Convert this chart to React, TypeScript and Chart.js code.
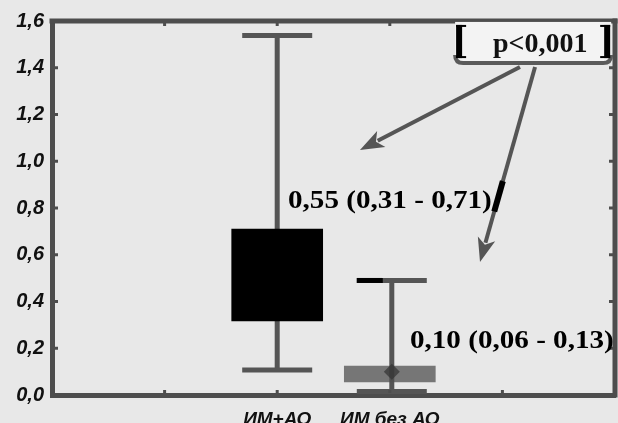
import { useEffect, useRef } from 'react';
import { Chart, registerables } from 'chart.js';

Chart.register(...registerables);

// ---- data ----
const slots = ['', '', 'ИМ+АО', 'ИМ без АО', '', ''];
const groupIndex = [2, 3];
const q1 = [0.317, 0.056];
const q3 = [0.71, 0.124];
const medians = [0.55, 0.1];
const whiskerLow = [0.107, 0.015];
const whiskerHigh = [1.538, 0.49];
const yMin = 0;
const yMax = 1.6;
const yStep = 0.2;
const summaryLabels = ['0,55 (0,31 - 0,71)', '0,10 (0,06 - 0,13)'];
const pLabel = 'p<0,001';

const boxData = slots.map((_, i) => {
  const k = groupIndex.indexOf(i);
  return k < 0 ? null : [q1[k], q3[k]];
});
const boxColors = slots.map((_, i) => {
  const k = groupIndex.indexOf(i);
  return k === 0 ? '#000000' : 'rgba(80,80,80,0.75)';
});

const SERIF = '"Liberation Serif", "Times New Roman", serif';
const SANS = '"Liberation Sans", Arial, sans-serif';

function drawArrow(ctx: CanvasRenderingContext2D, x1: number, y1: number, x2: number, y2: number) {
  const ang = Math.atan2(y2 - y1, x2 - x1);
  const headLen = 24;
  const headHalf = 9;
  const bx = x2 - headLen * Math.cos(ang);
  const by = y2 - headLen * Math.sin(ang);
  ctx.beginPath();
  ctx.moveTo(x1, y1);
  ctx.lineTo(bx + 4 * Math.cos(ang), by + 4 * Math.sin(ang));
  ctx.stroke();
  ctx.beginPath();
  ctx.moveTo(x2, y2);
  ctx.lineTo(bx + headHalf * Math.sin(ang), by - headHalf * Math.cos(ang));
  ctx.lineTo(bx + 6 * Math.cos(ang), by + 6 * Math.sin(ang));
  ctx.lineTo(bx - headHalf * Math.sin(ang), by + headHalf * Math.cos(ang));
  ctx.closePath();
  ctx.fill();
}

const boxPlugin = {
  id: 'boxExtras',
  beforeDraw(chart: any) {
    const { ctx, width, height } = chart;
    ctx.save();
    ctx.fillStyle = '#e8e8e8';
    ctx.fillRect(0, 0, width, height);
    ctx.restore();
  },
  beforeDatasetsDraw(chart: any) {
    const xs = chart.scales.x;
    const ys = chart.scales.y;
    const ctx = chart.ctx as CanvasRenderingContext2D;
    ctx.save();
    ctx.strokeStyle = '#555555';
    ctx.lineWidth = 5;
    groupIndex.forEach((gi, k) => {
      const px = xs.getPixelForValue(gi) + k * 2;
      const yh = ys.getPixelForValue(whiskerHigh[k]);
      const yl = ys.getPixelForValue(whiskerLow[k]);
      ctx.beginPath();
      ctx.moveTo(px, yh);
      ctx.lineTo(px, yl);
      ctx.moveTo(px - 35, yh);
      ctx.lineTo(px + 35, yh);
      ctx.moveTo(px - 35, yl);
      ctx.lineTo(px + 35, yl);
      ctx.stroke();
    });
    ctx.restore();
  },
  afterDatasetsDraw(chart: any) {
    const xs = chart.scales.x;
    const ys = chart.scales.y;
    const ca = chart.chartArea;
    const ctx = chart.ctx as CanvasRenderingContext2D;
    const X = (v: number) => xs.getPixelForValue(v);
    const Y = (v: number) => ys.getPixelForValue(v);
    ctx.save();

    // medians (diamonds)
    groupIndex.forEach((gi, k) => {
      const px = X(gi) + k * 2;
      const py = Y(medians[k]);
      ctx.fillStyle = k === 0 ? '#000000' : 'rgba(50,50,50,0.7)';
      ctx.beginPath();
      ctx.moveTo(px, py - 8);
      ctx.lineTo(px + 8, py);
      ctx.lineTo(px, py + 8);
      ctx.lineTo(px - 8, py);
      ctx.closePath();
      ctx.fill();
    });
    // dark left half of second upper cap (scan artefact)
    {
      const px = X(groupIndex[1]) + 2;
      const yh = Y(whiskerHigh[1]);
      ctx.strokeStyle = '#000';
      ctx.lineWidth = 5;
      ctx.beginPath();
      ctx.moveTo(px - 35, yh);
      ctx.lineTo(px - 9, yh);
      ctx.stroke();
    }

    // top and right frame
    ctx.fillStyle = '#4d4d4d';
    ctx.fillRect(ca.left - 2.5, ca.top - 2.5, ca.right - ca.left + 5, 5);
    ctx.fillRect(ca.right - 2.5, ca.top - 2.5, 5, ca.bottom - ca.top + 5);
    // small inward ticks
    for (let v = yMin + yStep; v < yMax - 1e-6; v += yStep) {
      const py = Y(v);
      ctx.fillRect(ca.left + 2, py - 1.5, 4, 3);
      ctx.fillRect(ca.right - 6, py - 1.5, 4, 3);
    }
    for (let i = 1; i < slots.length - 1; i++) {
      const px = X(i);
      ctx.fillRect(px - 1.5, ca.top + 2, 3, 3);
      ctx.fillRect(px - 1.5, ca.bottom - 5, 3, 3);
    }

    // p-value box
    const bx1 = X(3.58), bx2 = X(4.966), by1 = Y(1.596), by2 = Y(1.42);
    ctx.fillStyle = '#f3f3f3';
    ctx.fillRect(bx1, by1, bx2 - bx1, by2 - by1);
    ctx.strokeStyle = '#5a5a5a';
    ctx.lineWidth = 4;
    ctx.beginPath();
    ctx.moveTo(bx1, by2 - 8);
    ctx.quadraticCurveTo(bx1, by2, bx1 + 8, by2);
    ctx.lineTo(bx2 - 8, by2);
    ctx.quadraticCurveTo(bx2, by2, bx2, by2 - 8);
    ctx.stroke();
    // brackets
    ctx.fillStyle = '#000';
    ctx.fillRect(bx1 + 1, by1 + 3, 6, by2 - by1 - 8);
    ctx.fillRect(bx1 + 1, by1 + 3, 10, 2);
    ctx.fillRect(bx1 + 1, by2 - 7, 10, 2);
    ctx.fillRect(bx2 - 7, by1 + 3, 6, by2 - by1 - 8);
    ctx.fillRect(bx2 - 11, by1 + 3, 10, 2);
    ctx.fillRect(bx2 - 11, by2 - 7, 10, 2);
    ctx.fillStyle = '#111';
    ctx.font = `bold 28px ${SERIF}`;
    ctx.textBaseline = 'alphabetic';
    ctx.textAlign = 'left';
    ctx.fillText(pLabel, X(3.916), Y(1.467));

    // summary labels (horizontally stretched bold serif)
    const labelPos = [
      [2.096, 0.8],
      [3.179, 0.201],
    ];
    ctx.font = `bold 26px ${SERIF}`;
    ctx.fillStyle = '#000';
    summaryLabels.forEach((t, k) => {
      const lx = X(labelPos[k][0]);
      const ly = Y(labelPos[k][1]);
      ctx.save();
      ctx.translate(lx, ly);
      ctx.scale(1.12, 1);
      ctx.fillText(t, 0, 0);
      ctx.restore();
    });

    // arrows
    ctx.strokeStyle = '#555555';
    ctx.fillStyle = '#555555';
    ctx.lineWidth = 4;
    drawArrow(ctx, X(4.156), Y(1.403), X(2.735), Y(1.048));
    drawArrow(ctx, X(4.29), Y(1.403), X(3.801), Y(0.569));
    // dark overstroke where the arrow crosses the label
    {
      const sx = X(4.29), sy = Y(1.403), ex = X(3.801), ey = Y(0.569);
      const ya = Y(0.915), yb = Y(0.785);
      const ta = (ya - sy) / (ey - sy), tb = (yb - sy) / (ey - sy);
      ctx.strokeStyle = '#000';
      ctx.lineWidth = 6;
      ctx.beginPath();
      ctx.moveTo(sx + (ex - sx) * ta, ya);
      ctx.lineTo(sx + (ex - sx) * tb, yb);
      ctx.stroke();
    }
    ctx.restore();
  },
};

export default function App() {
  const ref = useRef<HTMLCanvasElement | null>(null);
  useEffect(() => {
    document.body.style.margin = '0';
    const canvas = ref.current;
    if (!canvas) return;
    const chart = new Chart(canvas, {
      type: 'bar',
      data: {
        labels: slots,
        datasets: [
          {
            data: boxData as any,
            backgroundColor: boxColors,
            borderWidth: 0,
            barThickness: 91,
          },
        ],
      },
      options: {
        responsive: false,
        animation: false,
        devicePixelRatio: 1,
        layout: { padding: { top: 21, right: 3, left: 0, bottom: 0 } },
        plugins: { legend: { display: false }, tooltip: { enabled: false }, title: { display: false } },
        scales: {
          x: {
            type: 'category',
            offset: false,
            grid: { display: false, drawTicks: false },
            border: { display: true, color: '#4d4d4d', width: 5 },
            ticks: {
              autoSkip: false,
              maxRotation: 0,
              padding: 13,
              color: '#111',
              font: { family: SANS, size: 19, weight: 'bold', style: 'italic' },
            },
            afterFit(scale: any) {
              scale.height = 28;
              scale.paddingLeft = 0;
              scale.paddingRight = 0;
            },
          },
          y: {
            type: 'linear',
            min: yMin,
            max: yMax,
            grid: { display: false, drawTicks: false },
            border: { display: true, color: '#4d4d4d', width: 5 },
            ticks: {
              stepSize: yStep,
              padding: 8,
              color: '#111',
              font: { family: SANS, size: 20, weight: 'bold', style: 'italic' },
              callback: (v: any) => Number(v).toFixed(1).replace('.', ','),
            },
            afterFit(scale: any) {
              scale.width = 52;
            },
          },
        },
      },
      plugins: [boxPlugin],
    } as any);
    return () => chart.destroy();
  }, []);
  return (
    <div style={{ width: 618, height: 423 }}>
      <canvas ref={ref} width={618} height={423} style={{ display: 'block' }} />
    </div>
  );
}
